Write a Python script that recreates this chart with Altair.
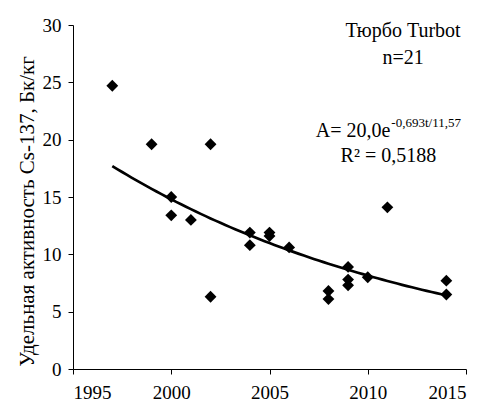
import altair as alt
import pandas as pd

years = [1997, 1999, 2000, 2000, 2001, 2002, 2002, 2004, 2004, 2005, 2005,
         2006, 2008, 2008, 2009, 2009, 2009, 2010, 2011, 2014, 2014]
activity = [24.7, 19.6, 15.0, 13.4, 13.0, 19.6, 6.3, 11.9, 10.8, 11.9, 11.6,
            10.6, 6.8, 6.1, 8.9, 7.8, 7.3, 8.0, 14.1, 7.7, 6.5]

x_ticks = [1995, 2000, 2005, 2010, 2015]
y_ticks = [0, 5, 10, 15, 20, 25, 30]

labels = ["Тюрбо Turbot", "n=21", "A= 20,0e", "-0,693t/11,57", "R² = 0,5188"]
label_x = [2011.8, 2011.8, 2011.15, 2011.2, 2011.05]
label_y = [29.45, 27.1, 20.75, 21.45, 18.55]
label_size = [20, 20, 20, 13, 20]
label_align = ["center", "center", "right", "left", "center"]

df = pd.DataFrame({"year": years, "act": activity})
ann = pd.DataFrame({"t": labels, "x": label_x, "y": label_y, "s": label_size, "a": label_align})

FONT = "Liberation Serif"

xs = alt.Scale(domain=[1995, 2015], nice=False)
ys = alt.Scale(domain=[0, 30], nice=False)

xax = alt.Axis(values=x_ticks, title=None, grid=False, format="d", labelFontSize=19,
               labelFont=FONT, labelColor="black", domainColor="black", tickColor="black",
               tickSize=5, labelPadding=9)
yax = alt.Axis(values=y_ticks, title="Удельная активность Cs-137, Бк/кг", grid=False,
               labelFontSize=19, labelFont=FONT, labelColor="black", domainColor="black",
               tickColor="black", tickSize=5, titleFont=FONT, titleFontSize=21,
               titleFontWeight="normal", titleColor="black", titlePadding=5, labelPadding=7,
               titleY=186)

points = alt.Chart(df).mark_point(shape="diamond", filled=True, color="black", size=140, opacity=1).encode(
    x=alt.X("year:Q", scale=xs, axis=xax),
    y=alt.Y("act:Q", scale=ys, axis=yax),
)

# Excel-style exponential trend: least squares of ln(activity) on t = year - 1995
trend = alt.Chart(df).transform_calculate(
    t="datum.year - 1995",
    ly="log(datum.act)",
).transform_calculate(
    ty="datum.t * datum.ly",
    tt="datum.t * datum.t",
).transform_aggregate(
    mt="mean(t)", my="mean(ly)", mty="mean(ty)", mtt="mean(tt)",
).transform_calculate(
    b="(datum.mty - datum.mt * datum.my) / (datum.mtt - datum.mt * datum.mt)",
).transform_calculate(
    a="datum.my - datum.b * datum.mt",
    yr="sequence(1997, 2014.01, 0.25)",
).transform_flatten(
    ["yr"]
).transform_calculate(
    act="exp(datum.a + datum.b * (datum.yr - 1995))"
).mark_line(color="black", strokeWidth=2.7).encode(
    x=alt.X("yr:Q", scale=xs),
    y=alt.Y("act:Q", scale=ys),
)

def text_layer(align):
    return alt.Chart(ann).transform_filter(alt.datum.a == align).mark_text(
        font=FONT, color="black", align=align, baseline="middle"
    ).encode(
        x=alt.X("x:Q", scale=xs),
        y=alt.Y("y:Q", scale=ys),
        text="t:N",
        size=alt.Size("s:Q", scale=None, legend=None),
    )

chart = alt.layer(trend, points, text_layer("center"), text_layer("right"), text_layer("left")).properties(
    width=393, height=344,
    autosize=alt.AutoSizeParams(type="none"),
    padding={"left": 65, "top": 17, "right": 10, "bottom": 40},
).configure_view(stroke=None)

chart.save("out.html", embed_options={"renderer": "svg", "actions": False})
